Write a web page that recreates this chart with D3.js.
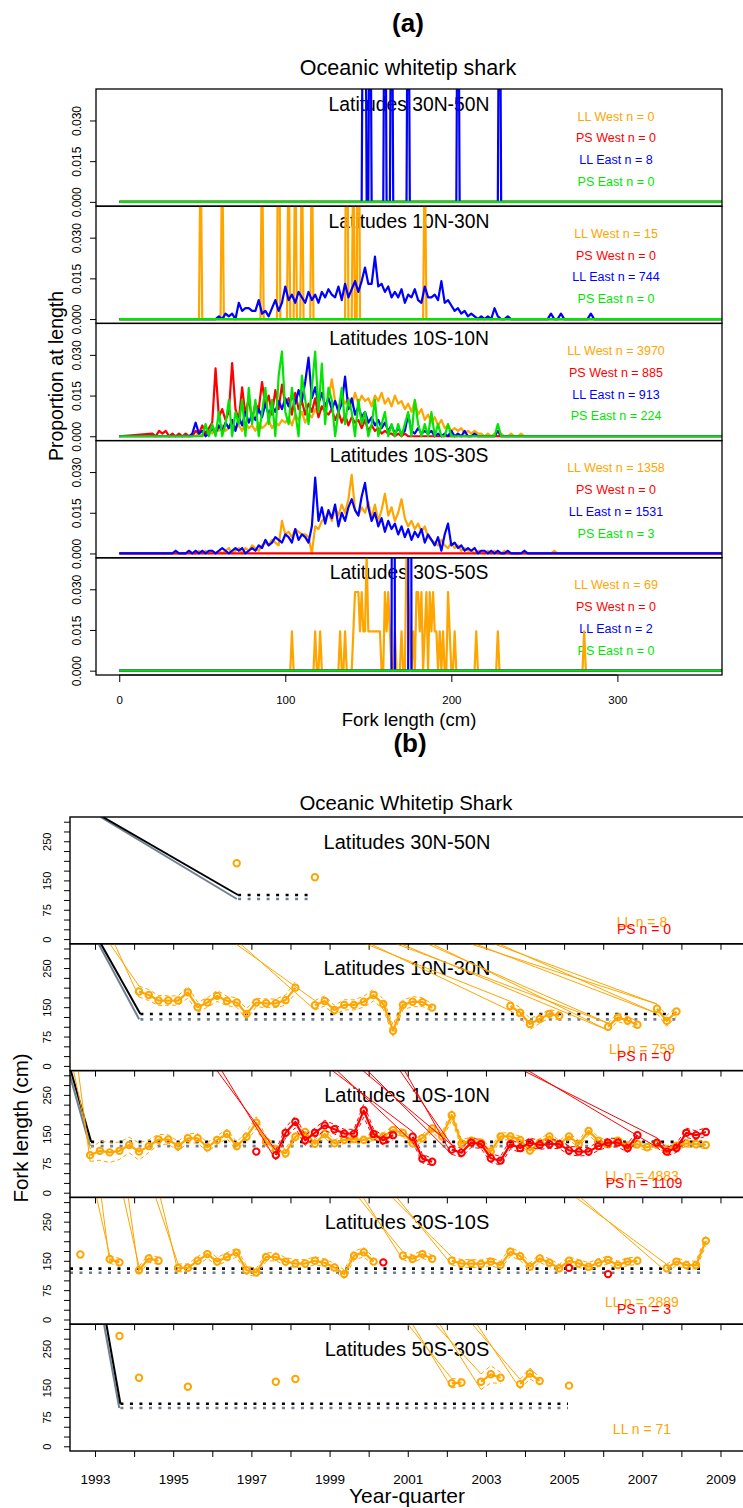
<!DOCTYPE html>
<html>
<head>
<meta charset="utf-8">
<script src="https://cdn.jsdelivr.net/npm/d3@7"></script>
<style>
  body { margin: 0; background: #fff; }
  svg  { display: block; font-family: "Liberation Sans", Arial, Helvetica, sans-serif; }
</style>
</head>
<body>
<svg id="chart" width="743" height="1508"></svg>
<script>
// ── Panel (a): proportion at length by latitude band ───────────────────────
const bandsA   = ['Latitudes 30N-50N', 'Latitudes 10N-30N', 'Latitudes 10S-10N', 'Latitudes 10S-30S', 'Latitudes 30S-50S'];
const fleetsA  = ['LL West', 'PS West', 'LL East', 'PS East'];
const nA       = [[0, 0, 8, 0], [15, 0, 744, 0], [3970, 885, 913, 224], [1358, 0, 1531, 3], [69, 0, 2, 0]];
const lenTicks  = [0, 100, 200, 300];
const propTicks = [0, 0.015, 0.030];

// sparse samples: [fork length cm, fish count]
const llEast30N50N = [[147, 1], [148, 1], [151, 1], [160, 1], [164, 1], [174, 1], [204, 1], [229, 1]];
const llWest10N30N = [[49, 1], [62, 1], [86, 1], [96, 2], [102, 1], [106, 1], [110, 1], [116, 1], [137, 2], [141, 1], [144, 2], [184, 1]];
const llWest30S50S = [[104, 1], [118, 1], [121, 1], [133, 1], [136, 1], [141, 1], [142, 2], [143, 2], [144, 2], [145, 1],
  [146, 2], [147, 1], [148, 1], [149, 3], [150, 1], [151, 1], [152, 1], [153, 1], [154, 1], [155, 1], [156, 1], [157, 1],
  [160, 2], [161, 1], [162, 2], [163, 1], [166, 1], [170, 1], [173, 3], [174, 2], [175, 1], [177, 1], [179, 2], [180, 2],
  [181, 1], [182, 2], [184, 1], [185, 2], [187, 2], [188, 1], [189, 2], [190, 1], [191, 1], [193, 1], [195, 1], [198, 2],
  [199, 1], [202, 1], [215, 1], [228, 1], [280, 1]];
const llEast30S50S = [[165, 1], [175, 1]];

// dense samples: proportion x 1000, one value every 2 cm (rows = 20 cm)
const llEast10N30N = [   // from 40 cm
  0, 0, 0, 0, 0, 0, 0, 0, 0, 0,   1, 0, 2, 1, 2, 0, 6, 3, 4, 4,
  3, 3, 7, 2, 3, 1, 4, 7, 3, 6,   12, 7, 9, 6, 10, 8, 6, 10, 7, 9,
  6, 10, 8, 11, 9, 8, 12, 7, 13, 8,   11, 14, 10, 14, 19, 13, 13, 23, 12, 13,
  10, 12, 8, 10, 8, 11, 6, 9, 8, 11,   7, 6, 12, 8, 8, 9, 7, 14, 6, 7,
  5, 3, 4, 2, 3, 1, 2, 1, 0, 1,   0, 1, 0, 4, 1, 0, 0, 1, 0, 0,
  0, 0, 0, 0, 0, 0, 0, 0, 0, 0,   2, 0, 0, 2, 0, 0, 0, 0, 0, 0,   0, 0, 2, 0, 0];
const psWest10S10N = [   // from 20 cm
  1, 0, 2, 1, 2, 0, 1, 0, 1, 0,   1, 0, 0, 2, 1, 4, 1, 3, 5, 25,
  7, 10, 6, 9, 27, 10, 6, 18, 8, 14,   6, 12, 10, 20, 11, 15, 8, 17, 10, 19,
  12, 14, 8, 16, 10, 13, 8, 12, 9, 14,   7, 11, 9, 8, 10, 6, 9, 5, 8, 4,
  7, 5, 6, 3, 6, 2, 4, 2, 3, 1,   2, 1, 1, 0, 1, 0, 1, 0, 0, 0];
const llWest10S10N = [   // from 40 cm
  0, 0, 0, 0, 1, 0, 1, 2, 1, 3,   2, 4, 2, 3, 5, 3, 4, 2, 5, 3,
  4, 2, 5, 3, 4, 6, 3, 5, 4, 6,   5, 7, 4, 8, 6, 9, 5, 8, 7, 10,
  8, 11, 9, 14, 21, 13, 10, 15, 12, 14,   11, 16, 12, 15, 13, 14, 11, 15, 13, 16,
  12, 14, 11, 15, 12, 13, 10, 12, 9, 13,   8, 10, 6, 8, 5, 7, 4, 6, 3, 4,
  2, 3, 2, 3, 1, 2, 1, 2, 1, 1,   0, 1, 0, 1, 0, 1, 0, 0, 1, 0,   0, 1, 0, 0];
const llEast10S10N = [   // from 40 cm
  0, 0, 1, 5, 1, 2, 0, 1, 3, 1,   4, 2, 5, 3, 6, 2, 7, 4, 9, 5,
  8, 6, 10, 7, 12, 8, 11, 9, 13, 10,   14, 11, 15, 12, 17, 13, 20, 29, 14, 18,
  12, 16, 11, 14, 10, 13, 9, 12, 22, 10,   14, 8, 11, 7, 9, 5, 7, 4, 6, 3,
  5, 2, 4, 1, 3, 1, 2, 8, 2, 1,   3, 1, 2, 1, 2, 0, 1, 0, 1, 0,
  2, 0, 1, 0, 2, 0, 0, 1, 0, 0,   0, 0, 0, 0, 2, 0, 0, 0, 0, 0];
const psEast10S10N = [   // fish counts, from 40 cm (n = 224)
  0, 0, 0, 0, 0, 0, 1, 0, 1, 0,   2, 0, 1, 3, 0, 2, 1, 3, 0, 4,
  1, 3, 0, 2, 4, 1, 3, 0, 5, 7,   2, 1, 4, 2, 0, 5, 3, 1, 4, 7,
  2, 6, 1, 4, 3, 0, 2, 4, 1, 3,   2, 0, 3, 1, 2, 0, 1, 3, 0, 1,
  2, 0, 1, 0, 1, 0, 1, 2, 0, 3,   1, 0, 1, 0, 2, 0, 1, 0, 0, 1,
  0, 0, 0, 0, 0, 0, 0, 0, 0, 0,   0, 0, 0, 0, 1, 0];
const llEast10S30S = [   // from 30 cm
  0, 0, 1, 0, 0, 0, 1, 0, 1, 0,   1, 0, 1, 1, 0, 1, 2, 1, 0, 1,
  2, 1, 2, 0, 1, 2, 1, 3, 2, 5,   3, 4, 6, 5, 4, 7, 6, 4, 9, 5,
  7, 6, 4, 10, 28, 12, 17, 11, 16, 13,   18, 10, 15, 12, 17, 20, 16, 14, 21, 26,
  17, 12, 15, 10, 13, 8, 12, 9, 11, 7,   10, 6, 9, 5, 8, 6, 9, 4, 7, 5,
  3, 6, 1, 7, 11, 3, 4, 2, 3, 1,   2, 1, 2, 0, 1, 1, 0, 1, 0, 1,   0, 0, 1, 0, 0, 0, 0, 1, 0, 0];
const llWest10S30S = [   // from 30 cm
  0, 0, 0, 0, 0, 0, 1, 0, 0, 1,   0, 1, 0, 1, 0, 1, 0, 1, 2, 0,
  1, 2, 0, 2, 1, 3, 2, 1, 3, 4,   3, 5, 4, 3, 12, 7, 8, 6, 9, 8,
  7, 7, 6, 0, 10, 9, 12, 13, 15, 12,   17, 14, 18, 15, 20, 29, 16, 14, 17, 15,
  19, 13, 18, 12, 16, 22, 14, 17, 12, 15,   20, 13, 10, 12, 9, 11, 8, 10, 6, 5,
  4, 3, 5, 3, 2, 4, 2, 3, 1, 2,   1, 1, 0, 1, 1, 0, 1, 0, 1, 0,
  0, 1, 0, 0, 0, 0, 0, 0, 0, 0,   0, 0, 0, 0, 0, 0, 1, 0, 0, 0];

// ── Panel (b): mean fork length by year-quarter ─────────────────────────────
const bandsB    = ['Latitudes 30N-50N', 'Latitudes 10N-30N', 'Latitudes 10S-10N', 'Latitudes 30S-10S', 'Latitudes 50S-30S'];
const nLL       = [8, 759, 4883, 2889, 71];
const nPS       = [0, 0, 1109, 3, null];
const yearTicks = d3.range(1993, 2010);
const flTicks   = d3.range(0, 301, 25);
const flLabels  = [0, 75, 150, 250];

// [year-quarter, mean fork length, CI half-width]
const ll30N50N = [[1996.625, 194, 0], [1998.625, 158, 0]];
const ll10N30N = [
  [1994.125, 190, 14], [1994.375, 181, 14], [1994.625, 167, 13], [1994.875, 167, 12], [1995.125, 167, 12], [1995.375, 188, 15],
  [1995.625, 150, 13], [1995.875, 162, 12], [1996.125, 179, 14], [1996.375, 166, 12], [1996.625, 162, 12], [1996.875, 133, 13],
  [1997.125, 162, 11], [1997.375, 160, 11], [1997.625, 160, 11], [1997.875, 168, 13], [1998.125, 200, 15],
  [1998.625, 155, 12], [1998.875, 166, 13], [1999.125, 143, 12], [1999.375, 156, 13], [1999.625, 156, 13], [1999.875, 164, 14],
  [2000.125, 181, 15], [2000.375, 158, 13], [2000.625, 90, 14], [2000.875, 156, 12], [2001.125, 164, 13], [2001.375, 163, 11],
  [2001.625, 149, 9],
  [2003.625, 153, 12], [2003.875, 136, 13], [2004.125, 107, 14], [2004.375, 120, 11], [2004.625, 133, 11], [2004.875, 128, 10],
  [2006.125, 100, 9], [2006.375, 124, 11], [2006.625, 116, 10], [2006.875, 105, 9],
  [2007.375, 146, 12], [2007.625, 115, 14], [2007.875, 139, 12]];
const ll10S10N = [
  [1992.875, 96, 16], [1993.125, 107, 24], [1993.375, 103, 26], [1993.625, 107, 22], [1993.875, 122, 20], [1994.125, 105, 22],
  [1994.375, 119, 16], [1994.625, 136, 13], [1994.875, 136, 12], [1995.125, 119, 12], [1995.375, 139, 12], [1995.625, 139, 12],
  [1995.875, 116, 12], [1996.125, 135, 11], [1996.375, 150, 12], [1996.625, 119, 11], [1996.875, 143, 12], [1997.125, 179, 15],
  [1997.375, 131, 12], [1997.625, 110, 11], [1997.875, 101, 11], [1998.125, 143, 10], [1998.375, 155, 10], [1998.625, 125, 10],
  [1998.875, 150, 10], [1999.125, 126, 9], [1999.375, 135, 9], [1999.625, 137, 9], [1999.875, 135, 9], [2000.125, 143, 9],
  [2000.375, 144, 9], [2000.625, 160, 10], [2000.875, 153, 9], [2001.125, 126, 10], [2001.375, 139, 9], [2001.625, 164, 10],
  [2001.875, 144, 10], [2002.125, 198, 12], [2002.375, 126, 10], [2002.625, 133, 9], [2002.875, 128, 9], [2003.125, 105, 11],
  [2003.375, 144, 9], [2003.625, 144, 9], [2003.875, 135, 9], [2004.125, 108, 10], [2004.375, 128, 9], [2004.625, 144, 9],
  [2004.875, 124, 9], [2005.125, 144, 9], [2005.375, 124, 9], [2005.625, 158, 10], [2005.875, 133, 9], [2006.125, 124, 9],
  [2006.375, 133, 9], [2006.625, 120, 9], [2006.875, 124, 9], [2007.125, 116, 9], [2007.375, 124, 9], [2007.625, 111, 9],
  [2007.875, 120, 9], [2008.125, 126, 9], [2008.375, 124, 9], [2008.625, 122, 9]];
const ps10S10N = [
  [1997.125, 105, 0],
  [1997.625, 96, 12], [1997.875, 153, 13], [1998.125, 181, 15], [1998.375, 134, 13], [1998.625, 153, 12], [1998.875, 172, 13],
  [1999.125, 162, 12], [1999.375, 151, 11], [1999.625, 151, 11], [1999.875, 210, 17], [2000.125, 150, 12], [2000.375, 134, 12],
  [2000.625, 147, 12],
  [2001.125, 143, 13], [2001.375, 87, 11], [2001.625, 79, 9],
  [2002.125, 110, 12], [2002.375, 102, 11], [2002.625, 128, 12], [2002.875, 124, 11], [2003.125, 88, 11], [2003.375, 82, 11],
  [2003.625, 124, 12], [2003.875, 114, 11], [2004.125, 128, 12], [2004.375, 122, 11], [2004.625, 124, 11], [2004.875, 124, 11],
  [2005.125, 108, 11], [2005.375, 105, 11], [2005.625, 105, 10], [2005.875, 119, 11], [2006.125, 128, 11], [2006.375, 128, 11],
  [2006.625, 114, 11], [2006.875, 147, 12],
  [2007.375, 128, 12], [2007.625, 105, 11], [2007.875, 114, 11], [2008.125, 153, 12], [2008.375, 147, 11], [2008.625, 155, 11]];
const ll30S10S = [
  [1992.625, 166, 0],
  [1993.375, 154, 10], [1993.625, 146, 10],
  [1994.125, 126, 10], [1994.375, 156, 10], [1994.625, 150, 9],
  [1995.125, 132, 10], [1995.375, 132, 10], [1995.625, 150, 10], [1995.875, 167, 11], [1996.125, 148, 10], [1996.375, 160, 11],
  [1996.625, 171, 11], [1996.875, 126, 11], [1997.125, 120, 10], [1997.375, 160, 11], [1997.625, 160, 10], [1997.875, 148, 10],
  [1998.125, 143, 10], [1998.375, 143, 10], [1998.625, 150, 10], [1998.875, 145, 10], [1999.125, 133, 10], [1999.375, 116, 11],
  [1999.625, 163, 11], [1999.875, 172, 12], [2000.125, 148, 10],
  [2000.875, 163, 10], [2001.125, 155, 10], [2001.375, 167, 10], [2001.625, 155, 9],
  [2002.125, 150, 10], [2002.375, 143, 10], [2002.625, 143, 10], [2002.875, 142, 10], [2003.125, 148, 10], [2003.375, 139, 10],
  [2003.625, 173, 11], [2003.875, 162, 11], [2004.125, 135, 10], [2004.375, 156, 10], [2004.625, 145, 10], [2004.875, 131, 10],
  [2005.125, 150, 10], [2005.375, 143, 10], [2005.625, 135, 10], [2005.875, 145, 10], [2006.125, 152, 10], [2006.375, 139, 10],
  [2006.625, 148, 10], [2006.875, 150, 9],
  [2007.625, 131, 10], [2007.875, 148, 10], [2008.125, 139, 10], [2008.375, 139, 10], [2008.625, 201, 12]];
const ps30S10S = [[2000.375, 146, 0], [2005.125, 132, 0], [2006.125, 116, 0]];
const ll50S30S = [
  [1993.625, 282, 0], [1994.125, 175, 0], [1995.375, 152, 0], [1997.625, 165, 0], [1998.125, 172, 0],
  [2002.125, 161, 12], [2002.375, 163, 9],
  [2002.875, 165, 20], [2003.125, 184, 22], [2003.375, 175, 14],
  [2003.875, 159, 12], [2004.125, 186, 14], [2004.375, 167, 9],
  [2005.125, 155, 0]];

// connector lines entering from the top edge: [year at top edge, quarter they reach]
const connLL = [
  [],
  [[1993.38, 1994.125], [1996.6, 1998.625], [1999.92, 2003.625], [2000.7, 2006.125], [2001.5, 2006.125], [2002.6, 2007.375], [2003.2, 2007.375]],
  [[1992.45, 1992.875]],
  [[1993.04, 1993.375], [1993.73, 1994.125], [1994.55, 1995.125], [1999.74, 2000.875], [2000.6, 2002.125], [2005.3, 2007.625]],
  [[2001.0, 2002.125], [2001.7, 2002.875], [2002.65, 2003.875]]];
const connPS = [[], [], [[1996.12, 1997.625], [1999.07, 2001.125], [1999.85, 2002.125], [2000.8, 2002.125], [2003.96, 2007.375]], [], []];

// reference lengths (black / slate grey): diagonal from top edge, then dotted level
const refTopYear  = [1993.2, 1993.15, 1992.38, null, 1993.29];
const refKnotYear = [1996.66, 1994.16, 1992.9, 1992.36, 1993.65];
const refEndYear  = [1998.6, 2007.93, 2008.6, 2008.6, 2005.1];
const refBlack    = [112.7, 132.6, 130, 130, 108.8];
const refGrey     = [102.5, 119, 119, 119.6, 98];

// ── Layout ─────────────────────────────────────────────────────────────────
const COL = { orange: '#ffa500', red: '#ff0000', blue: '#0000ff', green: '#00e600', grey: '#708090' };
const fleetColours = [COL.orange, COL.red, COL.blue, COL.green];
const A = { left: 96, right: 722, top: 89, h: 117.2 };
const B = { left: 70, right: 745.5, top: 817, h: 126.8 };
const LEN_MIN = 0, LEN_MAX = 365, FL_TOP = 312;

const xA = d3.scaleLinear().domain([-14, 363]).range([A.left, A.right]);
const xB = d3.scaleLinear().domain([1992.36, 2009.64]).range([B.left, B.right]);

function fromCounts(pairs, n) {
  const m = new Map(pairs);
  return d3.range(LEN_MIN, LEN_MAX + 1).map(cm => [cm, (m.get(cm) || 0) / n]);
}
function fromDense(start, vals, scale = 0.001) {
  return [[LEN_MIN, 0], ...vals.map((v, i) => [start + i * 2, v * scale]), [LEN_MAX, 0]];
}
const zeroLine = [[LEN_MIN, 0], [LEN_MAX, 0]];

// draw order: orange, red, blue, green (green sits on top)
const seriesA = [
  [zeroLine, zeroLine, fromCounts(llEast30N50N, 8), zeroLine],
  [fromCounts(llWest10N30N, 15), zeroLine, fromDense(40, llEast10N30N), zeroLine],
  [fromDense(40, llWest10S10N), fromDense(20, psWest10S10N), fromDense(40, llEast10S10N), fromDense(40, psEast10S10N, 1 / 224)],
  [fromDense(30, llWest10S30S), zeroLine, fromDense(30, llEast10S30S), null],
  [fromCounts(llWest30S50S, 69), zeroLine, fromCounts(llEast30S50S, 2), zeroLine],
];
const llB = [ll30N50N, ll10N30N, ll10S10N, ll30S10S, ll50S30S];
const psB = [[], [], ps10S10N, ps30S10S, []];

const svg = d3.select('#chart');

function label(g, x, y, txt, size, opts = {}) {
  return g.append('text').attr('x', x).attr('y', y).attr('text-anchor', 'middle')
    .attr('font-size', size).attr('fill', opts.fill || '#000')
    .attr('font-weight', opts.bold ? 'bold' : null).text(txt);
}

// ── (a) ────────────────────────────────────────────────────────────────────
label(svg, 408, 32, '(a)', 26, { bold: true });
label(svg, 408, 75, 'Oceanic whitetip shark', 21.5);

bandsA.forEach((band, i) => {
  const top = A.top + i * A.h, bottom = top + A.h;
  const y = d3.scaleLinear().domain([-0.0016, 0.0416]).range([bottom, top]);
  const g = svg.append('g');
  g.append('clipPath').attr('id', `clipA${i}`)
    .append('rect').attr('x', A.left).attr('y', top).attr('width', A.right - A.left).attr('height', A.h);

  label(g, 409, top + 21.5, band, 19.3);
  fleetsA.forEach((f, k) =>
    label(g, 616, top + 31.5 + k * 21.8, `${f} n = ${nA[i][k]}`, 12.5, { fill: fleetColours[k] }));

  const line = d3.line().x(d => xA(d[0])).y(d => y(d[1]));
  g.append('g').attr('clip-path', `url(#clipA${i})`)
    .selectAll('path')
    .data(seriesA[i].map((s, k) => ({ s, k })).filter(d => d.s))
    .join('path')
      .attr('d', d => line(d.s))
      .attr('fill', 'none')
      .attr('stroke', d => fleetColours[d.k])
      .attr('stroke-width', 2.2)
      .attr('stroke-linejoin', 'round');

  g.append('rect').attr('x', A.left).attr('y', top).attr('width', A.right - A.left).attr('height', A.h)
    .attr('fill', 'none').attr('stroke', '#000').attr('stroke-width', 1.3);

  const ay = g.append('g').attr('transform', `translate(${A.left},0)`)
    .call(d3.axisLeft(y).tickValues(propTicks).tickSize(6).tickFormat(d3.format('.3f')));
  ay.select('.domain').remove();
  ay.selectAll('text').attr('transform', 'rotate(-90)').attr('x', 0).attr('y', -15).attr('dy', 0)
    .attr('text-anchor', 'middle').attr('font-size', 12).attr('font-family', null);

  if (i === bandsA.length - 1) {
    const ax = g.append('g').attr('transform', `translate(0,${bottom})`)
      .call(d3.axisBottom(xA).tickValues(lenTicks).tickSize(7).tickPadding(14));
    ax.select('.domain').attr('d', `M${xA(0)},0H${xA(300)}`);
    ax.selectAll('text').attr('font-size', 11.5).attr('font-family', null);
    label(g, 409, 726, 'Fork length (cm)', 18.5);
  }
});

svg.append('text').attr('transform', 'translate(63,376) rotate(-90)')
  .attr('text-anchor', 'middle').attr('font-size', 19.5).text('Proportion at length');

// ── (b) ────────────────────────────────────────────────────────────────────
label(svg, 410, 752, '(b)', 26, { bold: true });
label(svg, 406, 810, 'Oceanic Whitetip Shark', 20.4);

function segments(pts) {
  const out = [];
  let cur = [];
  pts.forEach((p, j) => {
    if (j && p[0] - pts[j - 1][0] > 0.3) { out.push(cur); cur = []; }
    cur.push(p);
  });
  if (cur.length) out.push(cur);
  return out;
}

function drawFleet(g, y, pts, conns, colour) {
  const line = d3.line().x(d => xB(d[0])).y(d => y(d[1]));
  conns.forEach(([from, to]) => {
    const p = pts.find(d => Math.abs(d[0] - to) < 0.01);
    if (!p) return;
    const ends = p[2] ? [p[1] + p[2], p[1] - p[2]] : [p[1]];
    ends.forEach((v, k) => g.append('path')
      .attr('d', line([[from + k * 0.12, FL_TOP], [to, v]]))
      .attr('fill', 'none').attr('stroke', colour).attr('stroke-width', 1));
  });
  segments(pts).filter(s => s.length > 1).forEach(seg => {
    [1, -1].forEach(s => g.append('path')
      .attr('d', line(seg.map(d => [d[0], d[1] + s * d[2]])))
      .attr('fill', 'none').attr('stroke', colour).attr('stroke-width', 1).attr('stroke-dasharray', '4,3'));
    g.append('path').attr('d', line(seg))
      .attr('fill', 'none').attr('stroke', colour).attr('stroke-width', 2.2).attr('stroke-linejoin', 'round');
  });
  g.append('g').selectAll('circle').data(pts).join('circle')
    .attr('cx', d => xB(d[0])).attr('cy', d => y(d[1])).attr('r', 3.2)
    .attr('fill', 'none').attr('stroke', colour).attr('stroke-width', 2);
}

bandsB.forEach((band, i) => {
  const top = B.top + i * B.h, bottom = top + B.h;
  const y = d3.scaleLinear().domain([-12, FL_TOP]).range([bottom, top]);
  const g = svg.append('g');
  g.append('clipPath').attr('id', `clipB${i}`)
    .append('rect').attr('x', B.left).attr('y', top).attr('width', B.right - B.left).attr('height', B.h);

  label(g, 407, top + 31.5, band, 20);
  label(g, 642, top + 110, `LL n = ${nLL[i]}`, 14, { fill: COL.orange });
  if (nPS[i] !== null) label(g, 644, top + 117, `PS n = ${nPS[i]}`, 14, { fill: COL.red });

  const body = g.append('g').attr('clip-path', `url(#clipB${i})`);
  const line = d3.line().x(d => xB(d[0])).y(d => y(d[1]));
  [[COL.grey, refGrey[i], -0.06], ['#000', refBlack[i], 0]].forEach(([c, lvl, shift]) => {
    if (refTopYear[i] !== null) {
      body.append('path').attr('d', line([[refTopYear[i] + shift, FL_TOP], [refKnotYear[i] + shift / 2, lvl]]))
        .attr('fill', 'none').attr('stroke', c).attr('stroke-width', 2);
    }
    body.append('path').attr('d', line([[refKnotYear[i], lvl], [refEndYear[i], lvl]]))
      .attr('fill', 'none').attr('stroke', c).attr('stroke-width', 2.6).attr('stroke-dasharray', '3,6.5');
  });

  drawFleet(body, y, llB[i], connLL[i], COL.orange);
  drawFleet(body, y, psB[i], connPS[i], COL.red);

  g.append('rect').attr('x', B.left).attr('y', top).attr('width', B.right - B.left).attr('height', B.h)
    .attr('fill', 'none').attr('stroke', '#000').attr('stroke-width', 1.4);

  const ay = g.append('g').attr('transform', `translate(${B.left},0)`)
    .call(d3.axisLeft(y).tickValues(flTicks).tickSize(6).tickFormat(d => flLabels.includes(d) ? d : ''));
  ay.select('.domain').remove();
  ay.selectAll('text').attr('transform', 'rotate(-90)').attr('x', 0).attr('y', -19).attr('dy', 0)
    .attr('text-anchor', 'middle').attr('font-size', 11).attr('font-family', null);

  const last = i === bandsB.length - 1;
  const ax = g.append('g').attr('transform', `translate(0,${bottom})`)
    .call(d3.axisBottom(xB).tickValues(yearTicks).tickSize(6).tickPadding(17)
      .tickFormat(d => (last && d % 2 === 1) ? d : ''));
  ax.select('.domain').remove();
  ax.selectAll('text').attr('font-size', 13.5).attr('font-family', null);
});

label(svg, 407, 1503, 'Year-quarter', 21);
svg.append('text').attr('transform', 'translate(28,1128) rotate(-90)')
  .attr('text-anchor', 'middle').attr('font-size', 20.5).text('Fork length (cm)');
</script>
</body>
</html>
